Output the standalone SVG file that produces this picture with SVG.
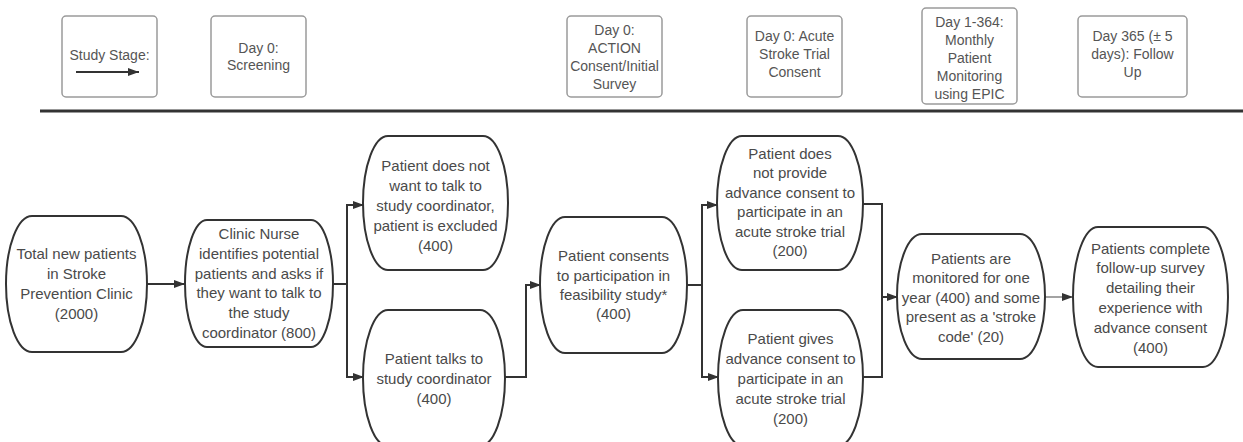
<svg xmlns="http://www.w3.org/2000/svg" width="1243" height="442" viewBox="0 0 1243 442">
<defs>
<style>
.hdr{fill:#fff;stroke:#9a9a9a;stroke-width:1.5}
.ht{font-family:"Liberation Sans",Arial,sans-serif;font-size:14px;fill:#555;text-anchor:middle;dominant-baseline:central}
.node{fill:#fff;stroke:#333;stroke-width:2}
.nt{font-family:"Liberation Sans",Arial,sans-serif;font-size:15px;fill:#4a4a4a;text-anchor:middle;dominant-baseline:central}
.c{fill:none;stroke:#333;stroke-width:2}
.thin{fill:none;stroke:#666;stroke-width:1.2}
</style>
<marker id="ah" markerUnits="userSpaceOnUse" markerWidth="12" markerHeight="10" refX="11" refY="5" orient="auto">
<path d="M0,1 L11,5 L0,9 Z" fill="#333"/>
</marker>
</defs>
<rect width="1243" height="442" fill="#fff"/>

<g id="header">
<g id="h-stage">
<rect class="hdr" x="62" y="16" width="95" height="81" rx="4"/>
<text class="ht" x="109.5" y="55">Study Stage:</text>
<line x1="76" y1="72" x2="139" y2="72" stroke="#333" stroke-width="2" marker-end="url(#ah)"/>
</g>
<g id="h-screening">
<rect class="hdr" x="211" y="16" width="95" height="81" rx="4"/>
<text class="ht" x="258.5" y="47.5">Day 0:</text>
<text class="ht" x="258.5" y="64.5">Screening</text>
</g>
<g id="h-action">
<rect class="hdr" x="567" y="16" width="95" height="81" rx="4"/>
<text class="ht" x="614.5" y="29.5">Day 0:</text>
<text class="ht" x="614.5" y="47.5">ACTION</text>
<text class="ht" x="614.5" y="65.5">Consent/Initial</text>
<text class="ht" x="614.5" y="83.5">Survey</text>
</g>
<g id="h-acute">
<rect class="hdr" x="747" y="16" width="95" height="81" rx="4"/>
<text class="ht" x="794.5" y="36">Day 0: Acute</text>
<text class="ht" x="794.5" y="54">Stroke Trial</text>
<text class="ht" x="794.5" y="72">Consent</text>
</g>
<g id="h-monthly">
<rect class="hdr" x="922" y="8" width="95" height="96" rx="4"/>
<text class="ht" x="969.5" y="22">Day 1-364:</text>
<text class="ht" x="969.5" y="40">Monthly</text>
<text class="ht" x="969.5" y="58">Patient</text>
<text class="ht" x="969.5" y="76">Monitoring</text>
<text class="ht" x="969.5" y="94">using EPIC</text>
</g>
<g id="h-followup">
<rect class="hdr" x="1078" y="16" width="109" height="81" rx="4"/>
<text class="ht" x="1132.5" y="36">Day 365 (± 5</text>
<text class="ht" x="1132.5" y="54">days): Follow</text>
<text class="ht" x="1132.5" y="72">Up</text>
</g>
<line x1="40" y1="111" x2="1243" y2="111" stroke="#333" stroke-width="3"/>
</g>

<g id="connectors">
<path class="c" d="M147,284 H185" marker-end="url(#ah)"/>
<path class="c" d="M333,284 H347 V205 H364" marker-end="url(#ah)"/>
<path class="c" d="M347,284 V377 H364" marker-end="url(#ah)"/>
<path class="c" d="M505,377 H526 V285 H541" marker-end="url(#ah)"/>
<path class="c" d="M687,285 H702 V205 H718" marker-end="url(#ah)"/>
<path class="c" d="M702,285 V377 H719" marker-end="url(#ah)"/>
<path class="c" d="M863,204 H882 V377 H863"/>
<path class="c" d="M882,297 H898" marker-end="url(#ah)"/>
<path class="thin" d="M1045,297 H1073" marker-end="url(#ah)"/>
</g>

<g id="n1">
<rect class="node" x="6" y="216" width="141" height="136" rx="26" ry="68"/>
<text class="nt" x="76.5" y="253">Total new patients</text>
<text class="nt" x="76.5" y="273">in Stroke</text>
<text class="nt" x="76.5" y="293">Prevention Clinic</text>
<text class="nt" x="76.5" y="313">(2000)</text>
</g>
<g id="n2">
<rect class="node" x="185" y="220" width="148" height="127" rx="22" ry="63.5"/>
<text class="nt" x="259" y="233.5">Clinic Nurse</text>
<text class="nt" x="259" y="253.3">identifies potential</text>
<text class="nt" x="259" y="273.1">patients and asks if</text>
<text class="nt" x="259" y="292.9">they want to talk to</text>
<text class="nt" x="259" y="312.7">the study</text>
<text class="nt" x="259" y="332.5">coordinator (800)</text>
</g>
<g id="n3">
<rect class="node" x="363" y="136" width="145" height="134" rx="25" ry="67"/>
<text class="nt" x="435.5" y="165">Patient does not</text>
<text class="nt" x="435.5" y="185">want to talk to</text>
<text class="nt" x="435.5" y="205">study coordinator,</text>
<text class="nt" x="435.5" y="225">patient is excluded</text>
<text class="nt" x="435.5" y="245">(400)</text>
</g>
<g id="n4">
<rect class="node" x="363" y="310" width="142" height="136" rx="25" ry="68"/>
<text class="nt" x="434" y="358">Patient talks to</text>
<text class="nt" x="434" y="378">study coordinator</text>
<text class="nt" x="434" y="398">(400)</text>
</g>
<g id="n5">
<rect class="node" x="540" y="217" width="147" height="136" rx="25" ry="68"/>
<text class="nt" x="613.5" y="255">Patient consents</text>
<text class="nt" x="613.5" y="275">to participation in</text>
<text class="nt" x="613.5" y="294">feasibility study*</text>
<text class="nt" x="613.5" y="313">(400)</text>
</g>
<g id="n6">
<rect class="node" x="717" y="136" width="146" height="134" rx="25" ry="67"/>
<text class="nt" x="790" y="153">Patient does</text>
<text class="nt" x="790" y="172.5">not provide</text>
<text class="nt" x="790" y="192">advance consent to</text>
<text class="nt" x="790" y="211.5">participate in an</text>
<text class="nt" x="790" y="231">acute stroke trial</text>
<text class="nt" x="790" y="250.5">(200)</text>
</g>
<g id="n7">
<rect class="node" x="718" y="310" width="145" height="136" rx="25" ry="68"/>
<text class="nt" x="790.5" y="338">Patient gives</text>
<text class="nt" x="790.5" y="358">advance consent to</text>
<text class="nt" x="790.5" y="378">participate in an</text>
<text class="nt" x="790.5" y="398">acute stroke trial</text>
<text class="nt" x="790.5" y="418">(200)</text>
</g>
<g id="n8">
<rect class="node" x="897" y="234" width="148" height="125" rx="25" ry="62.5"/>
<text class="nt" x="971" y="258">Patients are</text>
<text class="nt" x="971" y="277.5">monitored for one</text>
<text class="nt" x="971" y="297">year (400) and some</text>
<text class="nt" x="971" y="316.5">present as a 'stroke</text>
<text class="nt" x="971" y="336">code' (20)</text>
</g>
<g id="n9">
<rect class="node" x="1073" y="227" width="155" height="140" rx="25" ry="70"/>
<text class="nt" x="1150.5" y="248">Patients complete</text>
<text class="nt" x="1150.5" y="267.8">follow-up survey</text>
<text class="nt" x="1150.5" y="287.6">detailing their</text>
<text class="nt" x="1150.5" y="307.4">experience with</text>
<text class="nt" x="1150.5" y="327.2">advance consent</text>
<text class="nt" x="1150.5" y="347">(400)</text>
</g>
</svg>
